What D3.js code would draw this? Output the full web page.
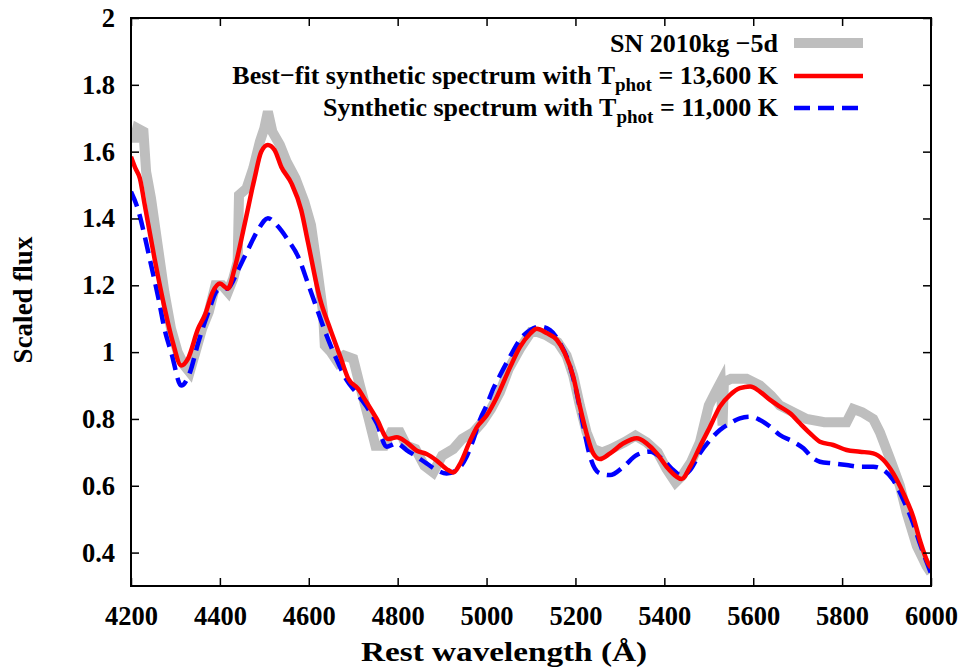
<!DOCTYPE html>
<html lang="en">
<head>
  <meta charset="UTF-8">
  <title>SN 2010kg spectrum</title>
  <script src="https://cdn.jsdelivr.net/npm/d3@7"></script>
  <style>
    body { margin: 0; background: #fff; }
    text { font-family: "Liberation Serif", "Times New Roman", serif; font-weight: bold; fill: #000; }
  </style>
</head>
<body>
<script>
  // observed spectrum, SN 2010kg at -5d
  const obsWave = [4200, 4207, 4214, 4228, 4234, 4245, 4260, 4275, 4290, 4305, 4320, 4332, 4345, 4360, 4375, 4390, 4405, 4418, 4430, 4440, 4443, 4460, 4475, 4490, 4500, 4508, 4518, 4535, 4550, 4570, 4590, 4605, 4620, 4632, 4636, 4650, 4665, 4680, 4700, 4715, 4735, 4750, 4770, 4785, 4805, 4820, 4840, 4860, 4880, 4900, 4925, 4945, 4970, 4990, 5010, 5030, 5050, 5075, 5100, 5115, 5135, 5160, 5180, 5195, 5210, 5225, 5240, 5260, 5280, 5310, 5335, 5360, 5385, 5405, 5425, 5440, 5460, 5480, 5500, 5515, 5527, 5531, 5534, 5550, 5585, 5615, 5640, 5660, 5690, 5720, 5760, 5790, 5810, 5825, 5845, 5870, 5885, 5908, 5930, 5945, 5968, 5990, 6000];
  const obsFlux = [1.67, 1.63, 1.67, 1.66, 1.54, 1.46, 1.32, 1.18, 1.07, 1.00, 0.96, 0.94, 1.00, 1.07, 1.12, 1.20, 1.20, 1.18, 1.22, 1.27, 1.47, 1.49, 1.55, 1.63, 1.67, 1.72, 1.66, 1.62, 1.57, 1.52, 1.45, 1.38, 1.24, 1.12, 1.02, 1.00, 0.97, 0.99, 0.98, 0.90, 0.80, 0.72, 0.72, 0.76, 0.76, 0.72, 0.71, 0.66, 0.64, 0.69, 0.71, 0.74, 0.76, 0.79, 0.83, 0.88, 0.95, 1.01, 1.06, 1.06, 1.05, 1.03, 0.99, 0.93, 0.84, 0.76, 0.71, 0.70, 0.71, 0.73, 0.75, 0.73, 0.70, 0.65, 0.61, 0.63, 0.67, 0.73, 0.84, 0.88, 0.91, 0.78, 0.91, 0.92, 0.92, 0.90, 0.87, 0.84, 0.82, 0.80, 0.79, 0.79, 0.79, 0.83, 0.82, 0.80, 0.76, 0.68, 0.60, 0.52, 0.42, 0.36, 0.34];

  // best-fit model, T_phot = 13,600 K
  const fitWave = [4200, 4210, 4220, 4231, 4253, 4276, 4294, 4313, 4328, 4351, 4366, 4384, 4400, 4418, 4433, 4456, 4478, 4493, 4508, 4523, 4538, 4561, 4583, 4598, 4625, 4648, 4670, 4689, 4711, 4730, 4753, 4779, 4798, 4820, 4843, 4865, 4888, 4910, 4925, 4940, 4963, 4978, 5000, 5023, 5053, 5075, 5098, 5113, 5135, 5158, 5176, 5195, 5210, 5225, 5240, 5255, 5278, 5308, 5338, 5360, 5383, 5405, 5428, 5439, 5458, 5480, 5503, 5525, 5548, 5570, 5593, 5615, 5638, 5660, 5683, 5705, 5728, 5750, 5780, 5810, 5840, 5870, 5893, 5915, 5938, 5960, 5975, 5994, 6000];
  const fitFlux = [1.585, 1.55, 1.52, 1.44, 1.28, 1.13, 1.03, 0.96, 0.98, 1.07, 1.11, 1.18, 1.205, 1.19, 1.25, 1.385, 1.52, 1.60, 1.62, 1.605, 1.555, 1.505, 1.425, 1.33, 1.16, 1.07, 0.99, 0.92, 0.89, 0.85, 0.80, 0.74, 0.745, 0.73, 0.705, 0.695, 0.675, 0.65, 0.64, 0.665, 0.735, 0.775, 0.81, 0.865, 0.955, 1.015, 1.055, 1.07, 1.057, 1.037, 0.997, 0.927, 0.837, 0.757, 0.697, 0.68, 0.697, 0.727, 0.742, 0.727, 0.697, 0.657, 0.627, 0.62, 0.657, 0.717, 0.777, 0.837, 0.872, 0.892, 0.897, 0.882, 0.857, 0.837, 0.817, 0.787, 0.757, 0.732, 0.722, 0.707, 0.702, 0.697, 0.677, 0.637, 0.577, 0.507, 0.437, 0.367, 0.355];

  // model, T_phot = 11,000 K
  const coolWave = [4200, 4216, 4231, 4246, 4261, 4276, 4291, 4313, 4332, 4351, 4373, 4396, 4418, 4441, 4463, 4486, 4508, 4531, 4553, 4576, 4598, 4614, 4640, 4663, 4685, 4708, 4730, 4753, 4775, 4798, 4820, 4843, 4865, 4888, 4910, 4933, 4955, 4970, 4985, 5000, 5015, 5030, 5053, 5075, 5098, 5120, 5143, 5165, 5188, 5203, 5218, 5233, 5255, 5278, 5308, 5338, 5368, 5398, 5420, 5439, 5458, 5480, 5503, 5525, 5548, 5570, 5593, 5615, 5638, 5660, 5690, 5713, 5735, 5750, 5780, 5810, 5840, 5870, 5893, 5915, 5938, 5960, 5975, 6000];
  const coolFlux = [1.48, 1.426, 1.346, 1.256, 1.166, 1.066, 0.997, 0.9, 0.937, 1.027, 1.116, 1.186, 1.191, 1.246, 1.306, 1.366, 1.401, 1.376, 1.336, 1.286, 1.206, 1.146, 1.05, 0.977, 0.917, 0.877, 0.837, 0.787, 0.717, 0.727, 0.707, 0.687, 0.667, 0.647, 0.637, 0.647, 0.687, 0.737, 0.797, 0.84, 0.89, 0.93, 0.987, 1.037, 1.066, 1.076, 1.066, 1.027, 0.957, 0.877, 0.777, 0.687, 0.637, 0.632, 0.657, 0.692, 0.702, 0.677, 0.647, 0.63, 0.647, 0.697, 0.737, 0.767, 0.787, 0.802, 0.807, 0.797, 0.777, 0.752, 0.732, 0.712, 0.682, 0.672, 0.667, 0.662, 0.657, 0.657, 0.647, 0.617, 0.557, 0.487, 0.427, 0.338];

  const xTicks = [4200, 4400, 4600, 4800, 5000, 5200, 5400, 5600, 5800, 6000];
  const yTicks = [0.4, 0.6, 0.8, 1, 1.2, 1.4, 1.6, 1.8, 2];

  const width = 962, height = 668;
  const margin = {top: 18, right: 31, bottom: 82, left: 131};
  const w = width - margin.left - margin.right;
  const h = height - margin.top - margin.bottom;

  const x = d3.scaleLinear().domain([4200, 6000]).range([0, w]);
  const y = d3.scaleLinear().domain([0.3, 2]).range([h, 0]);

  const svg = d3.select("body").append("svg")
    .attr("width", width)
    .attr("height", height);

  const g = svg.append("g").attr("transform", `translate(${margin.left},${margin.top})`);

  const line = d3.line().x(d => x(d[0])).y(d => y(d[1]));
  const smooth = d3.line().x(d => x(d[0])).y(d => y(d[1])).curve(d3.curveMonotoneX);

  g.append("defs").append("clipPath").attr("id", "clip")
    .append("rect").attr("width", w).attr("height", h);

  const plot = g.append("g").attr("clip-path", "url(#clip)");

  plot.append("path")
    .datum(d3.zip(obsWave, obsFlux))
    .attr("fill", "none")
    .attr("stroke", "#bebebe")
    .attr("stroke-width", 10)
    .attr("d", line);

  plot.append("path")
    .datum(d3.zip(coolWave, coolFlux))
    .attr("fill", "none")
    .attr("stroke", "#0000ff")
    .attr("stroke-width", 4.5)
    .attr("stroke-dasharray", "16,8")
    .attr("d", smooth);

  plot.append("path")
    .datum(d3.zip(fitWave, fitFlux))
    .attr("fill", "none")
    .attr("stroke", "#ff0000")
    .attr("stroke-width", 4.5)
    .attr("d", smooth);

  // axes with inward ticks, mirrored on top and right
  const fmt = d => String(d);
  g.append("g").attr("transform", `translate(0,${h})`)
    .call(d3.axisBottom(x).tickValues(xTicks).tickSize(-8).tickPadding(20).tickFormat(fmt));
  g.append("g")
    .call(d3.axisTop(x).tickValues(xTicks).tickSize(-8).tickFormat(""));
  g.append("g")
    .call(d3.axisLeft(y).tickValues(yTicks).tickSize(-8).tickPadding(16).tickFormat(fmt));
  g.append("g").attr("transform", `translate(${w},0)`)
    .call(d3.axisRight(y).tickValues(yTicks).tickSize(-8).tickFormat(""));

  g.selectAll(".domain").remove();
  g.selectAll(".tick line").attr("stroke", "#000").attr("stroke-width", 1.5);
  g.selectAll(".tick text").style("font-size", "26.5px").style("font-family", "Liberation Serif, serif").style("font-weight", "bold");

  g.append("rect")
    .attr("width", w).attr("height", h)
    .attr("fill", "none").attr("stroke", "#000").attr("stroke-width", 2);

  // axis titles
  svg.append("text")
    .attr("x", 504).attr("y", 661)
    .attr("text-anchor", "middle")
    .attr("textLength", 286)
    .attr("lengthAdjust", "spacingAndGlyphs")
    .style("font-size", "28px")
    .text("Rest wavelength (Å)");

  svg.append("text")
    .attr("transform", `translate(32,300) rotate(-90)`)
    .attr("text-anchor", "middle")
    .style("font-size", "27px")
    .text("Scaled flux");

  // legend
  const legend = svg.append("g");
  const rows = [
    {y: 43, stroke: "#bebebe", sw: 10, dash: null},
    {y: 76, stroke: "#ff0000", sw: 4.5, dash: null},
    {y: 108, stroke: "#0000ff", sw: 4.5, dash: "16,8"}
  ];
  rows.forEach(r => {
    legend.append("line")
      .attr("x1", 794).attr("x2", 863)
      .attr("y1", r.y).attr("y2", r.y)
      .attr("stroke", r.stroke)
      .attr("stroke-width", r.sw)
      .attr("stroke-dasharray", r.dash);
  });

  legend.append("text")
    .attr("x", 778).attr("y", 52)
    .attr("text-anchor", "end")
    .style("font-size", "26px")
    .text("SN 2010kg −5d");

  function tLabel(yy, before, after) {
    const t = legend.append("text")
      .attr("x", 778).attr("y", yy)
      .attr("text-anchor", "end")
      .style("font-size", "26px");
    t.append("tspan").text(before);
    t.append("tspan").attr("dy", 7).style("font-size", "19px").text("phot");
    t.append("tspan").attr("dy", -7).text(after);
  }
  tLabel(84, "Best−fit synthetic spectrum with T", " = 13,600 K");
  tLabel(116, "Synthetic spectrum with T", " = 11,000 K");
</script>
</body>
</html>
